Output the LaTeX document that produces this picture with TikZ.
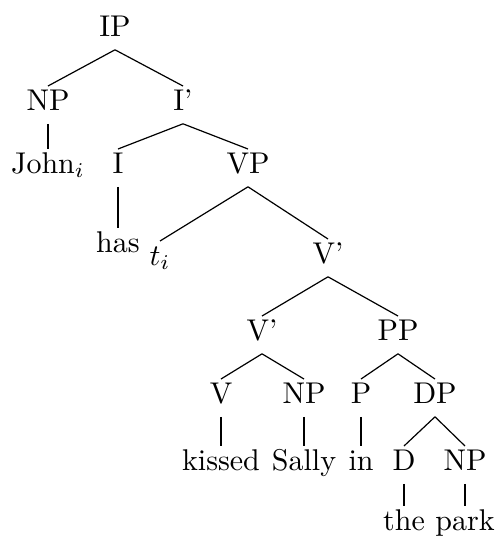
\documentclass[tikz,border=0pt]{standalone}

\begin{document}
\begin{tikzpicture}[node distance=21pt]
% Styles
\tikzstyle{cat} = [text height=6.4pt, text depth=3pt, inner xsep=1pt, inner ysep=1.4pt]
\tikzstyle{branch} = [thin]

\useasboundingbox (-38.33pt,10.3pt) rectangle (128pt,-169.37pt);

\node (ip) [cat] {IP};
\node (np_subj) [cat, below of=ip, xshift=-22.33pt, yshift=-3.67pt] {NP};
\node (i_bar) [cat, below of=ip, xshift=22.67pt, yshift=-3.67pt] {I'};
\node (john) [cat, below of=np_subj] {John$_i$};
\node (infl) [cat, below of=i_bar, xshift=-21.67pt] {I};
\node (vp) [cat, below of=i_bar, xshift=21.67pt] {VP};
\node (has) [cat, below of=infl, yshift=-5.33pt] {has};
\node (trace) [cat, below of=vp, xshift=-29.33pt, yshift=-9.67pt] {$t_i$};
\node (v_bar_top) [cat, below of=vp, xshift=26.67pt, yshift=-9pt] {V'};
\node (v_bar) [cat, below of=v_bar_top, xshift=-22pt, yshift=-4.67pt] {V'};
\node (pp) [cat, below of=v_bar_top, xshift=23.33pt, yshift=-4.67pt] {PP};
\node (verb) [cat, below of=v_bar, xshift=-13.67pt] {V};
\node (np_obj) [cat, below of=v_bar, xshift=14pt] {NP};
\node (prep) [cat, below of=pp, xshift=-12.33pt] {P};
\node (dp) [cat, below of=pp, xshift=12.33pt] {DP};
\node (kissed) [cat, below of=verb, yshift=-1.33pt] {kissed};
\node (sally) [cat, below of=np_obj, yshift=-1.33pt] {Sally};
\node (in) [cat, below of=prep, yshift=-1.33pt] {in};
\node (det) [cat, below of=dp, xshift=-10.33pt, yshift=-1.33pt] {D};
\node (np_park) [cat, below of=dp, xshift=10pt, yshift=-1.33pt] {NP};
\node (the) [cat, below of=det, yshift=1pt] {the};
\node (park) [cat, below of=np_park, yshift=1pt] {park};

\draw [branch] (ip.south) -- (np_subj.north);
\draw [branch] (ip.south) -- (i_bar.north);
\draw [branch] (np_subj.south) -- (john.north);
\draw [branch] (i_bar.south) -- (infl.north);
\draw [branch] (i_bar.south) -- (vp.north);
\draw [branch] (infl.south) -- (has.north);
\draw [branch] (vp.south) -- (trace.north);
\draw [branch] (vp.south) -- (v_bar_top.north);
\draw [branch] (v_bar_top.south) -- (v_bar.north);
\draw [branch] (v_bar_top.south) -- (pp.north);
\draw [branch] (v_bar.south) -- (verb.north);
\draw [branch] (v_bar.south) -- (np_obj.north);
\draw [branch] (pp.south) -- (prep.north);
\draw [branch] (pp.south) -- (dp.north);
\draw [branch] (verb.south) -- (kissed.north);
\draw [branch] (np_obj.south) -- (sally.north);
\draw [branch] (prep.south) -- (in.north);
\draw [branch] (dp.south) -- (det.north);
\draw [branch] (dp.south) -- (np_park.north);
\draw [branch] (det.south) -- (the.north);
\draw [branch] (np_park.south) -- (park.north);

\end{tikzpicture}
\end{document}
